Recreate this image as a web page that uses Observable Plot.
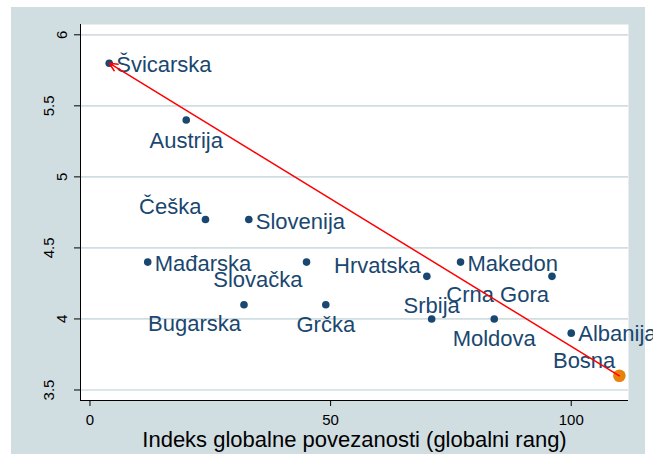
<!DOCTYPE html>
<html>
<head>
<meta charset="utf-8">
<script src="https://cdn.jsdelivr.net/npm/d3@7"></script>
<script src="https://cdn.jsdelivr.net/npm/@observablehq/plot@0.6"></script>
<style>
  html, body { margin: 0; padding: 0; background: #ffffff; }
</style>
</head>
<body>
<div id="chart"></div>
<script>
// ---- data ----
const countries = ["Švicarska","Austrija","Češka","Slovenija","Mađarska","Slovačka","Bugarska","Grčka","Hrvatska","Makedon","Crna Gora","Srbija","Moldova","Albanija","Bosna"];
const rank      = [4, 20, 24, 33, 12, 45, 32, 49, 70, 77, 96, 71, 84, 100, 110];
const score     = [5.8, 5.4, 4.7, 4.7, 4.4, 4.4, 4.1, 4.1, 4.3, 4.4, 4.3, 4.0, 4.0, 3.9, 3.6];
const xTicks = [0, 50, 100];
const yTicks = [3.5, 4, 4.5, 5, 5.5, 6];
const xTitle = "Indeks globalne povezanosti (globalni rang)";
const highlight = "Bosna";
const arrowFrom = "Bosna";
const arrowTo = "Švicarska";

// ---- styles ----
const navy = "#1a476f";
const orange = "#e8820c";
const panelBg = "#d0dde1";
const gridColor = "#d0dde1";
const font = "'Liberation Sans', Arial, Helvetica, sans-serif";
const xDomain = [-1.97, 111.9];
const yDomain = [3.426, 6.0725];

const labelStyle = {
  "Švicarska": {dx: 7,  dy: 2,     anchor: "start"},
  "Austrija":  {dx: 0,  dy: 21,    anchor: "middle"},
  "Češka":     {dx: -4, dy: -12.5, anchor: "end"},
  "Slovenija": {dx: 7,  dy: 2,     anchor: "start"},
  "Mađarska":  {dx: 7,  dy: 2,     anchor: "start"},
  "Slovačka":  {dx: -4, dy: 18,    anchor: "end"},
  "Bugarska":  {dx: -3, dy: 19,    anchor: "end"},
  "Grčka":     {dx: 0,  dy: 20,    anchor: "middle"},
  "Hrvatska":  {dx: -6, dy: -10,   anchor: "end"},
  "Makedon":   {dx: 7,  dy: 2,     anchor: "start"},
  "Crna Gora": {dx: -3, dy: 19,    anchor: "end"},
  "Srbija":    {dx: 0,  dy: -13,   anchor: "middle"},
  "Moldova":   {dx: 0,  dy: 20,    anchor: "middle"},
  "Albanija":  {dx: 7,  dy: 1,     anchor: "start"},
  "Bosna":     {dx: -4, dy: -14.5, anchor: "end"}
};

const data = countries.map((c, i) => ({country: c, x: rank[i], y: score[i]}));
const from = data.find(d => d.country === arrowFrom);
const to = data.find(d => d.country === arrowTo);

const labelMarks = data.map(d => {
  const s = labelStyle[d.country];
  return Plot.text([d], {
    x: "x", y: "y", text: "country",
    dx: s.dx, dy: s.dy, textAnchor: s.anchor, lineAnchor: "middle",
    fill: navy, fontSize: 22
  });
});

const chart = Plot.plot({
  width: 653,
  height: 461,
  marginLeft: 80,
  marginRight: 25,
  marginTop: 24,
  marginBottom: 61,
  style: "background: linear-gradient(" + panelBg + "," + panelBg + ") 11px 7px / 634px 447px no-repeat, #ffffff; font-family: " + font + "; overflow: visible;",
  x: {domain: xDomain},
  y: {domain: yDomain},
  marks: [
    Plot.frame({fill: "#ffffff", stroke: "none"}),
    Plot.gridY(yTicks, {stroke: gridColor, strokeOpacity: 1, strokeWidth: 1.7}),
    Plot.ruleX([xDomain[0]], {stroke: "black", strokeWidth: 1}),
    Plot.ruleY([yDomain[0]], {stroke: "black", strokeWidth: 1}),
    Plot.axisX({ticks: xTicks, tickSize: 6, tickFormat: () => "", label: null}),
    Plot.axisY({ticks: yTicks, tickSize: 6, tickFormat: () => "", label: null}),
    Plot.text(xTicks, {
      x: d => d, text: d => String(d), frameAnchor: "bottom",
      textAnchor: "middle", lineAnchor: "top", dy: 14, fontSize: 15, fill: "black"
    }),
    Plot.text(yTicks.filter(t => Number.isInteger(t)), {
      y: d => d, text: d => String(d), frameAnchor: "left",
      textAnchor: "middle", lineAnchor: "middle",
      dx: -18, rotate: -90, fontSize: 15, fill: "black"
    }),
    Plot.text(yTicks.filter(t => !Number.isInteger(t)), {
      y: d => d, text: d => String(d), frameAnchor: "left",
      textAnchor: "middle", lineAnchor: "middle",
      dx: -31.5, rotate: -90, fontSize: 15, fill: "black"
    }),
    Plot.text([xTitle], {
      text: d => d, frameAnchor: "bottom", textAnchor: "middle", lineAnchor: "middle",
      dy: 39.7, fontSize: 22, fill: "black"
    }),
    Plot.dot(data, {x: "x", y: "y", r: 3.8, fill: navy}),
    Plot.dot(data.filter(d => d.country === highlight), {x: "x", y: "y", r: 6.3, fill: orange}),
    ...labelMarks,
    Plot.arrow([{from, to}], {
      x1: d => d.from.x, y1: d => d.from.y,
      x2: d => d.to.x, y2: d => d.to.y,
      stroke: "red", strokeWidth: 1.5, headLength: 9, headAngle: 50
    })
  ]
});

document.getElementById("chart").appendChild(chart);
</script>
</body>
</html>
